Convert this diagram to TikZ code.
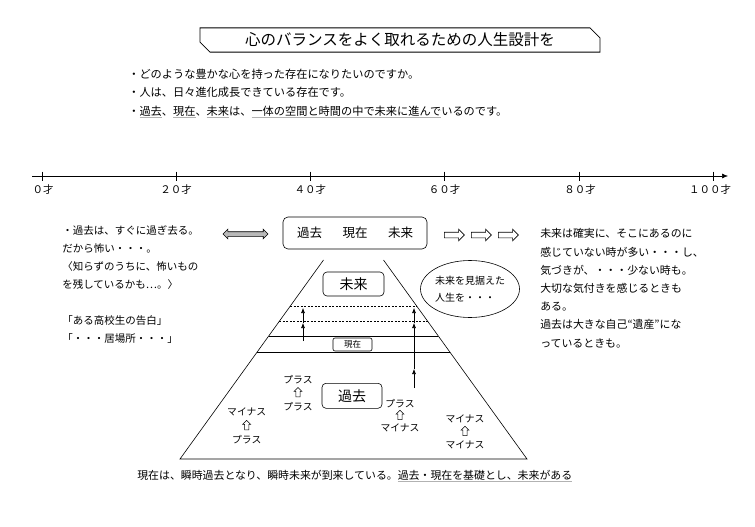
\documentclass[tikz,border=0pt]{standalone}
\usepackage{fontspec}
\setmainfont{Noto Sans CJK JP}
\usetikzlibrary{arrows.meta,shapes.geometric,shapes.arrows,shapes.misc,calc}

\newcommand{\gul}[1]{{\color{gray!60}\underline{\color{black}#1}}}

\tikzset{
  txt/.style={inner sep=0pt,align=left,anchor=north west},
  rbox/.style={draw,rounded corners=4pt,inner sep=0pt},
  hollow/.style={single arrow,draw,minimum height=20pt,inner sep=2.5pt,
    single arrow head extend=3pt},
  uparr/.style={single arrow,draw,shape border rotate=90,minimum height=9.5pt,
    inner sep=1.9pt,single arrow head extend=1.8pt,line width=0.5pt},
  arr/.style={-{Latex[length=5pt,width=4pt]}},
}

\begin{document}
\begin{tikzpicture}[x=1pt,y=-1pt,line width=0.6pt]
        \useasboundingbox[fill=white] (0,0) rectangle (755,527);

        \node[chamfered rectangle,chamfered rectangle corners={north east,south west},
              chamfered rectangle xsep=5pt,chamfered rectangle ysep=5pt,draw,line width=0.8pt,
              minimum width=400pt,minimum height=24pt,inner sep=0pt,
              font=\fontsize{15.5}{16}\selectfont] (title) at (400,40) {心のバランスをよく取れるための人生設計を};

        \node[txt,font=\fontsize{11.2}{18.5}\selectfont] (intro) at (128,68.4)
          {・どのような豊かな心を持った存在になりたいのですか。\\
           ・人は、日々進化成長できている存在です。\\
           ・\gul{過去}、\gul{現在}、\gul{未来}は、\gul{一体の空間と時間の中で未来に進んで}いるのです。};

        % time line
        \coordinate (ax0) at (32,176);
        \coordinate (ax1) at (728,176);
        \draw[-{Latex[length=6pt,width=5pt]}] (ax0) -- (ax1);
        \draw (42,171.5)    -- (42,180.5);
        \draw (176.2,171.5) -- (176.2,180.5);
        \draw (310.4,171.5) -- (310.4,180.5);
        \draw (444.6,171.5) -- (444.6,180.5);
        \draw (578.8,171.5) -- (578.8,180.5);
        \draw (713,171.5)   -- (713,180.5);

        \begin{scope}[every node/.style={font=\fontsize{10.5}{11}\selectfont,inner sep=0pt}]
          \node (age0)   at (43,190)    {０才};
          \node (age20)  at (176.2,190) {２０才};
          \node (age40)  at (310.4,190) {４０才};
          \node (age60)  at (444.6,190) {６０才};
          \node (age80)  at (580,190)   {８０才};
          \node (age100) at (710,190)   {１００才};
        \end{scope}

        % side texts
        \node[txt,font=\fontsize{10.5}{18}\selectfont] (past) at (62,225.8)
          {・過去は、すぐに過ぎ去る。\\
           だから怖い・・・。\\
           〈知らずのうちに、怖いもの\\
           を残しているかも…。〉\\
           \\
           「ある高校生の告白」\\
           「・・・居場所・・・」};

        \node[txt,font=\fontsize{10.9}{18.2}\selectfont] (future) at (540,228.5)
          {未来は確実に、そこにあるのに\\
           感じていない時が多い・・・し、\\
           気づきが、・・・少ない時も。\\
           大切な気付きを感じるときも\\
           ある。\\
           過去は大きな自己“遺産”にな\\
           っているときも。};

        \node[rbox,minimum width=144pt,minimum height=32pt,rounded corners=5pt,
              font=\fontsize{12.5}{13}\selectfont] (trio) at (355,233)
          {過去\hspace{20.5pt}現在\hspace{20.5pt}未来};

        \node[double arrow,draw,fill=gray!55,minimum height=45pt,inner sep=2pt,
              double arrow head extend=2.5pt] (link) at (245.5,234) {};
        \node[hollow] (fw1) at (453,235) {};
        \node[hollow] (fw2) at (480,235) {};
        \node[hollow] (fw3) at (507,235) {};

        \node[ellipse,draw,minimum width=95pt,minimum height=57pt,inner sep=0pt,align=left,
              font=\fontsize{10}{17}\selectfont] (vision) at (470,289) {未来を見据えた\\人生を・・・};

        % pyramid
        \coordinate (TL) at (323.5,260);
        \coordinate (TR) at (383.5,260);
        \coordinate (BL) at (180,459);
        \coordinate (BR) at (527,459);
        \draw (TL) -- (BL) -- (BR) -- (TR);

        \coordinate (d1l) at ($(TL)!0.231!(BL)$);
        \coordinate (d1r) at ($(TR)!0.231!(BR)$);
        \coordinate (d2l) at ($(TL)!0.307!(BL)$);
        \coordinate (d2r) at ($(TR)!0.307!(BR)$);
        \coordinate (s1l) at ($(TL)!0.382!(BL)$);
        \coordinate (s1r) at ($(TR)!0.382!(BR)$);
        \coordinate (s2l) at ($(TL)!0.462!(BL)$);
        \coordinate (s2r) at ($(TR)!0.462!(BR)$);
        \draw[line width=0.5pt,dash pattern=on 2pt off 1.5pt] (d1l) -- (d1r);
        \draw[line width=0.5pt,dash pattern=on 2pt off 1.5pt] (d2l) -- (d2r);
        \draw (s1l) -- (s1r);
        \draw (s2l) -- (s2r);

        \node[rbox,minimum width=61pt,minimum height=24pt,font=\fontsize{14}{15}\selectfont] (fut) at (353.5,284) {未来};
        \node[rbox,minimum width=39pt,minimum height=13pt,rounded corners=2pt,
              font=\fontsize{8.5}{9}\selectfont] (now) at (352.5,344.5) {現在};
        \node[rbox,minimum width=60pt,minimum height=25pt,font=\fontsize{14}{15}\selectfont] (pst) at (352,395.8) {過去};

        \coordinate (la0) at (303,341);
        \coordinate (la1) at (303,323);
        \coordinate (la2) at (303,308);
        \coordinate (ra0) at (414,388);
        \coordinate (ra1) at (414,369);
        \coordinate (ra2) at (414,323);
        \coordinate (ra3) at (414,308);
        \draw[arr] (la0) -- (la1);
        \draw[arr] (la1) -- (la2);
        \draw[arr] (ra0) -- (ra1);
        \draw[arr] (ra1) -- (ra2);
        \draw[arr] (ra2) -- (ra3);

        \begin{scope}[every node/.style={font=\fontsize{9.8}{10}\selectfont,inner sep=0pt}]
          \node (a1) at (298,380)   {プラス};
          \node (a2) at (298,406.7) {プラス};
          \node (b1) at (246.7,411.7) {マイナス};
          \node (b2) at (246.7,440)   {プラス};
          \node (c1) at (400,403.3) {プラス};
          \node (c2) at (400,428.3) {マイナス};
          \node (e1) at (465,419.3) {マイナス};
          \node (e2) at (465,445)   {マイナス};
        \end{scope}
        \node[uparr] (au) at (298,393.3) {};
        \node[uparr] (bu) at (246.7,426.2) {};
        \node[uparr] (cu) at (400,416) {};
        \node[uparr] (eu) at (465,432) {};

        \node[inner sep=0pt,anchor=base west,font=\fontsize{10.9}{11}\selectfont] (base) at (137,479.1)
          {現在は、瞬時過去となり、瞬時未来が到来している。\gul{過去・現在を基礎とし、未来がある}};

      \end{tikzpicture}
\end{document}
